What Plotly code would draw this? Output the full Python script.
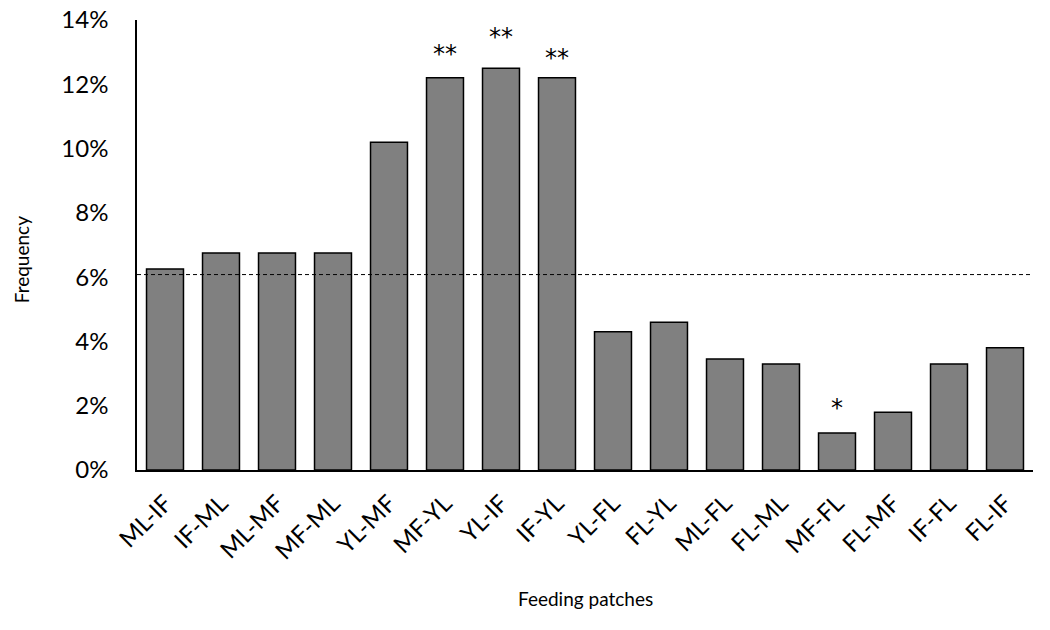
import plotly.graph_objects as go

categories = ["ML-IF", "IF-ML", "ML-MF", "MF-ML", "YL-MF", "MF-YL", "YL-IF", "IF-YL",
              "YL-FL", "FL-YL", "ML-FL", "FL-ML", "MF-FL", "FL-MF", "IF-FL", "FL-IF"]
frequency = [0.0625, 0.0675, 0.0675, 0.0675, 0.102, 0.122, 0.125, 0.122,
             0.043, 0.046, 0.0345, 0.033, 0.0115, 0.018, 0.033, 0.038]
expected = 0.0608
sig_labels = {"MF-YL": "**", "YL-IF": "**", "IF-YL": "**", "MF-FL": "*"}
y_ticks = [0, 0.02, 0.04, 0.06, 0.08, 0.10, 0.12, 0.14]

FONT = "Lato, Carlito, Calibri, sans-serif"

fig = go.Figure()
fig.add_trace(go.Bar(
    x=categories, y=frequency,
    marker=dict(color="#808080", line=dict(color="black", width=1.5)),
    width=0.66,
))

sig_shift = {"MF-YL": 24, "YL-IF": 31, "IF-YL": 20, "MF-FL": 25}
for cat, lab in sig_labels.items():
    v = frequency[categories.index(cat)]
    fig.add_annotation(x=cat, y=v, text=lab, showarrow=False, yanchor="middle",
                       yshift=sig_shift[cat],
                       font=dict(size=24, color="black", family="DejaVu Sans"))

fig.add_shape(type="line", xref="paper", yref="y", x0=0, x1=1, y0=expected, y1=expected,
              line=dict(color="black", width=1, dash="4px,3px"))

fig.add_annotation(text="Frequency", xref="paper", yref="paper", x=-0.129, y=0.467,
                   textangle=-90, showarrow=False, xanchor="center", yanchor="middle",
                   font=dict(size=19, family=FONT, color="black"))
fig.add_annotation(text="Feeding patches", xref="paper", yref="paper", x=0.5, y=-0.285,
                   showarrow=False, xanchor="center", yanchor="middle",
                   font=dict(size=19, family=FONT, color="black"))

fig.update_layout(
    width=1050, height=630,
    margin=dict(l=137, r=17, t=20, b=160),
    plot_bgcolor="white", paper_bgcolor="white",
    font=dict(family=FONT, color="black"),
    showlegend=False,
    bargap=0.34,
)
fig.update_xaxes(
    showline=True, linecolor="black", linewidth=1.5, showgrid=False,
    tickangle=-45, tickfont=dict(size=24, family=FONT), ticks="", automargin=False,
    ticklabelstandoff=8,
)
fig.update_yaxes(
    range=[0, 0.14], tickvals=y_ticks, tickformat=".0%",
    showline=True, linecolor="black", linewidth=1.5, showgrid=False, zeroline=False,
    ticks="", tickfont=dict(size=24, family=FONT), ticklabelstandoff=22, automargin=False,
)

fig.write_html("out.html", config={"displayModeBar": False},
               post_script="document.body.style.margin='0px';")
